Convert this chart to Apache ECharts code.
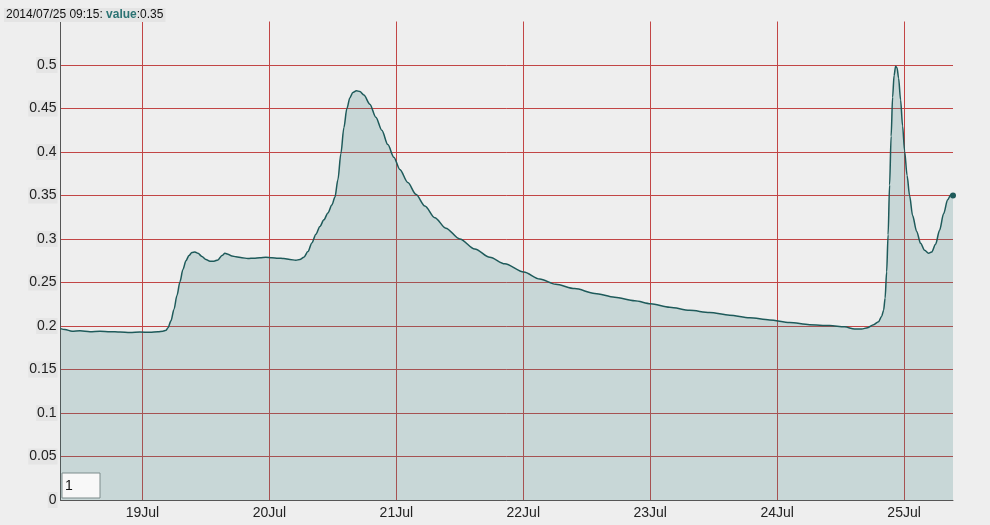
<!DOCTYPE html>
<html>
<head>
<meta charset="utf-8">
<script src="https://cdn.jsdelivr.net/npm/echarts@6/dist/echarts.min.js"></script>
<style>
html,body{margin:0;padding:0;background:#eeeeee;}
#chart{width:990px;height:525px;}
</style>
</head>
<body>
<div id="chart"></div>
<script>
// hours since 2014-07-18 00:00 (UTC-based)
const hours = [8.5, 9.35, 10.68, 12.19, 14.08, 15.97, 17.86, 19.75, 21.64, 23.53, 25.42, 26.93, 27.87, 28.44,
  28.82, 29.39, 29.95, 30.52, 31.09, 31.65, 32.22, 32.79, 33.35, 33.92, 34.49, 35.24, 36.0, 36.76, 37.51,
  38.27, 39.03, 39.59, 40.16, 40.91, 41.67, 42.80, 43.94, 45.07, 46.21, 47.34, 48.47, 49.61, 50.74, 51.87,
  53.01, 53.76, 54.52, 55.28, 56.03, 56.79, 57.55, 58.30, 59.06, 59.81, 60.38, 60.95, 61.51, 62.08, 62.65,
  63.22, 63.78, 64.44, 65.10, 65.86, 66.99, 68.13, 69.26, 70.39, 71.53, 72.66, 74.17, 75.69, 77.39, 79.28,
  81.35, 84.0, 86.83, 89.67, 92.50, 96.09, 99.12, 102.14, 105.73, 109.51, 113.29, 117.07, 120.09, 123.68,
  127.46, 131.24, 135.02, 138.80, 142.58, 146.36, 150.14, 153.92, 156.76, 158.65, 159.97, 161.10, 162.24,
  163.18, 163.75, 164.13, 164.41, 164.70, 164.98, 165.26, 165.55, 165.83, 166.11, 166.40, 166.68, 166.96,
  167.34, 167.72, 168.10, 168.57, 169.04, 169.61, 170.37, 171.12, 171.88, 172.63, 173.20, 173.96, 174.71,
  175.47, 176.23, 176.80, 177.25];
const values = [0.197, 0.196, 0.194, 0.1945, 0.1935, 0.194, 0.1935, 0.193, 0.1925, 0.193, 0.1928, 0.1935, 0.194, 0.195,
  0.198, 0.206, 0.219, 0.235, 0.251, 0.265, 0.275, 0.281, 0.2845, 0.285, 0.2835, 0.280, 0.2765, 0.2745, 0.2745,
  0.276, 0.281, 0.2835, 0.2825, 0.2805, 0.2795, 0.2785, 0.2775, 0.278, 0.2785, 0.279, 0.2785, 0.278, 0.2775, 0.2765,
  0.2755, 0.2765, 0.279, 0.2855, 0.2955, 0.3055, 0.3145, 0.322, 0.330, 0.339, 0.348, 0.368, 0.398, 0.428, 0.450,
  0.4625, 0.4685, 0.4705, 0.4695, 0.4655, 0.455, 0.440, 0.425, 0.4085, 0.394, 0.380, 0.365, 0.3515, 0.338, 0.3245,
  0.3125, 0.300, 0.2885, 0.279, 0.2715, 0.262, 0.254, 0.248, 0.243, 0.2375, 0.233, 0.229, 0.2255, 0.2215,
  0.218, 0.2155, 0.2125, 0.2095, 0.207, 0.204, 0.2015, 0.2005, 0.199, 0.1965, 0.1965, 0.198, 0.2015,
  0.205, 0.211, 0.218, 0.232, 0.262, 0.305, 0.362, 0.418, 0.463, 0.488, 0.4985, 0.4965, 0.485,
  0.46, 0.43, 0.401, 0.373, 0.350, 0.327, 0.309, 0.295, 0.287, 0.2835, 0.285, 0.294, 0.310,
  0.329, 0.345, 0.3505, 0.35];
const monthNames = ['Jan','Feb','Mar','Apr','May','Jun','Jul','Aug','Sep','Oct','Nov','Dec'];
const yMax = 0.55;
const yStep = 0.05;
const headerDate = '2014/07/25 09:15';
const headerValue = '0.35';
const rangeBoxText = '1';

const base = Date.UTC(2014, 6, 18);
const HOUR = 3600000, DAY = 86400000;
const seriesData = hours.map((h, i) => [base + h * HOUR, values[i]]);
const last = seriesData[seriesData.length - 1];
const FONT = 'Liberation Sans, Arial, sans-serif';

const chart = echarts.init(document.getElementById('chart'), null, {renderer: 'canvas'});
chart.setOption({
  useUTC: true,
  backgroundColor: '#eeeeee',
  animation: false,
  title: {
    text: '{a|' + headerDate + ': }{b|value}{a|:' + headerValue + '}',
    left: 4, top: 8,
    padding: [1, 2],
    backgroundColor: '#e4e4e4',
    textStyle: {
      fontWeight: 'normal',
      fontSize: 12,
      rich: {
        a: {fontFamily: FONT, fontSize: 12, color: '#111', fontWeight: 'normal'},
        b: {fontFamily: FONT, fontSize: 12, color: '#2b7373', fontWeight: 'bold'}
      }
    }
  },
  grid: {left: 60.5, right: 37, top: 21.5, bottom: 25, containLabel: false},
  xAxis: {
    type: 'time',
    min: base + hours[0] * HOUR,
    max: last[0],
    minInterval: DAY,
    maxInterval: DAY,
    axisLine: {show: true, lineStyle: {color: '#555', width: 1}},
    axisTick: {show: false},
    axisLabel: {
      margin: 6,
      fontFamily: FONT,
      fontSize: 14,
      color: '#222',
      formatter: function (v) {
        if (v % DAY !== 0) return '';
        const d = new Date(v);
        return d.getUTCDate() + monthNames[d.getUTCMonth()];
      }
    },
    splitLine: {show: true, showMinLine: false, showMaxLine: false, lineStyle: {color: '#c24545', width: 1}}
  },
  yAxis: {
    type: 'value',
    min: 0, max: yMax, interval: yStep,
    axisLine: {show: true, lineStyle: {color: '#555', width: 1}},
    axisTick: {show: false},
    axisLabel: {
      margin: 3,
      fontFamily: FONT,
      fontSize: 14,
      color: '#222',
      backgroundColor: '#e5e5e5',
      padding: [1, 1],
      formatter: function (v) {
        if (v > yMax - 1e-9) return '';
        return String(+v.toFixed(2));
      }
    },
    splitLine: {show: true, showMinLine: false, showMaxLine: false, lineStyle: {color: '#c24545', width: 1}}
  },
  series: [{
    type: 'line',
    data: seriesData,
    showSymbol: false,
    smooth: 0.3,
    smoothMonotone: 'x',
    lineStyle: {color: '#1e5a5a', width: 1.5},
    areaStyle: {color: 'rgba(62,134,134,0.3)'},
    markPoint: {
      silent: true,
      data: [{coord: last, symbol: 'circle', symbolSize: 6}],
      itemStyle: {color: '#1e5a5a'},
      label: {show: false}
    }
  }],
  graphic: [
    {type: 'rect', z: 100, shape: {x: 62, y: 473, width: 38, height: 25},
     style: {fill: '#f8f8f8', stroke: '#7d8c8c', lineWidth: 1}},
    {type: 'text', z: 101, x: 65, y: 486,
     style: {text: rangeBoxText, font: '14px ' + FONT, fill: '#111', verticalAlign: 'middle'}}
  ]
});
</script>
</body>
</html>
